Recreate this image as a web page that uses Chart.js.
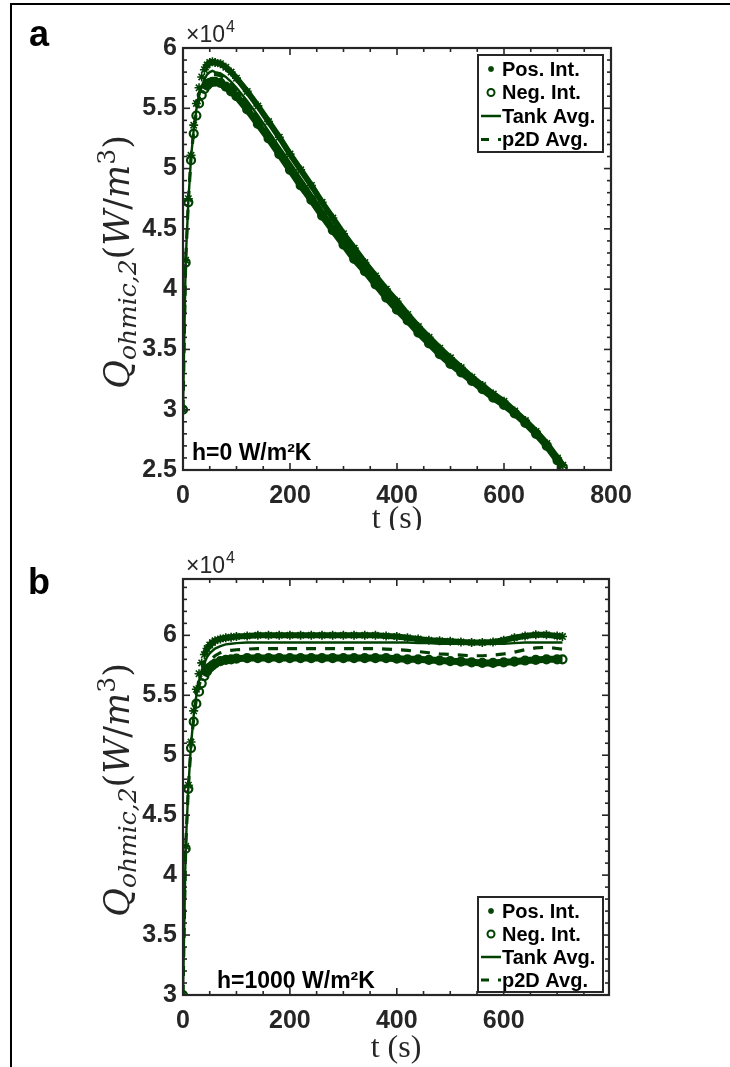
<!DOCTYPE html>
<html>
<head>
<meta charset="utf-8">
<script src="https://cdn.jsdelivr.net/npm/chart.js@4.4.1/dist/chart.umd.min.js"></script>
<style>
  body { margin: 0; background: #fff; }
  #page { position: relative; width: 730px; height: 1067px; overflow: hidden; }
  #frame { position: absolute; left: 10px; top: 3px; width: 740px; height: 1080px;
           border-top: 2px solid #000; border-left: 2px solid #000; }
  .panel { position: absolute; left: 0; width: 730px; }
</style>
</head>
<body>
<div id="page">
  <div id="frame"></div>
  <div class="panel" style="top:0;height:530px"><canvas id="chartA" width="730" height="530"></canvas></div>
  <div class="panel" style="top:530px;height:537px"><canvas id="chartB" width="730" height="537"></canvas></div>
</div>
<script>
// values in units of 1e4 W/m^3, time in s
const timeA = [0, 5, 10, 15, 20, 25, 30, 35, 40, 45, 50, 55, 60, 70, 80, 90, 100,
  120, 140, 160, 180, 200, 220, 240, 260, 280, 300, 320, 340, 360, 380, 400, 420, 440,
  460, 480, 500, 520, 540, 560, 580, 600, 620, 640, 660, 680, 700, 710];
const posA = [3.00, 4.24, 4.75, 5.11, 5.36, 5.54, 5.67, 5.76, 5.82, 5.86, 5.88, 5.885, 5.88,
  5.87, 5.84, 5.80, 5.75,
  5.64, 5.52, 5.39, 5.26, 5.12, 4.99, 4.86, 4.72, 4.59, 4.46, 4.34, 4.22, 4.11, 4.00,
  3.90, 3.79, 3.69, 3.60, 3.51, 3.43, 3.35, 3.27, 3.20, 3.13, 3.07, 2.99, 2.91, 2.82, 2.72, 2.60,
  2.54];
const negA = [3.00, 4.22, 4.72, 5.07, 5.29, 5.44, 5.54, 5.61, 5.66, 5.69, 5.71, 5.72, 5.72,
  5.71, 5.68, 5.64, 5.60,
  5.49, 5.37, 5.25, 5.12, 4.99, 4.86, 4.74, 4.61, 4.49, 4.37, 4.25, 4.15, 4.04, 3.93,
  3.83, 3.74, 3.64, 3.55, 3.46, 3.38, 3.31, 3.24, 3.17, 3.10, 3.04, 2.97, 2.89, 2.80, 2.70, 2.58,
  2.52];
const tankA = [3.00, 4.23, 4.73, 5.09, 5.32, 5.49, 5.60, 5.68, 5.74, 5.78, 5.80, 5.81, 5.80,
  5.79, 5.76, 5.72, 5.67,
  5.56, 5.44, 5.31, 5.18, 5.05, 4.92, 4.79, 4.66, 4.53, 4.41, 4.29, 4.18, 4.07, 3.96,
  3.86, 3.76, 3.66, 3.57, 3.48, 3.40, 3.32, 3.25, 3.18, 3.11, 3.05, 2.98, 2.90, 2.81, 2.71, 2.59,
  2.53];
const p2dA = [3.00, 4.23, 4.73, 5.09, 5.31, 5.47, 5.58, 5.66, 5.71, 5.75, 5.77, 5.78, 5.78,
  5.77, 5.74, 5.70, 5.65,
  5.54, 5.42, 5.29, 5.16, 5.03, 4.90, 4.77, 4.64, 4.52, 4.40, 4.28, 4.17, 4.06, 3.95,
  3.85, 3.75, 3.65, 3.56, 3.47, 3.39, 3.31, 3.24, 3.17, 3.11, 3.05, 2.98, 2.90, 2.81, 2.71, 2.59,
  2.53];

const timeB = [0, 5, 10, 15, 20, 25, 30, 35, 40, 45, 50, 55, 60, 70, 80, 90, 100,
  120, 140, 160, 180, 200, 220, 240, 260, 280, 300, 320, 340, 360, 380, 400, 420, 440,
  460, 480, 500, 520, 540, 560, 580, 600, 620, 640, 660, 680, 700, 710];
const posB = [3.00, 4.24, 4.75, 5.11, 5.37, 5.55, 5.68, 5.77, 5.84, 5.89, 5.92, 5.94, 5.955,
  5.97, 5.98, 5.985, 5.99,
  5.995, 6.00, 6.00, 6.00, 6.00, 6.00, 6.00, 6.00, 6.00, 6.00, 6.00, 6.00, 6.00,
  5.995, 5.99, 5.98, 5.97, 5.96, 5.955, 5.95, 5.945, 5.94, 5.94, 5.945, 5.96, 5.98, 5.995,
  6.005, 6.005, 5.995,
  5.99];
const negB = [3.00, 4.22, 4.72, 5.06, 5.28, 5.43, 5.53, 5.60, 5.66, 5.70, 5.73, 5.75, 5.765,
  5.785, 5.795, 5.80, 5.805,
  5.81, 5.81, 5.81, 5.81, 5.81, 5.81, 5.81, 5.81, 5.81, 5.81, 5.81, 5.81, 5.81,
  5.81, 5.805, 5.80, 5.80, 5.795, 5.79, 5.785, 5.78, 5.775, 5.77, 5.77, 5.775, 5.78, 5.79,
  5.795, 5.80, 5.80,
  5.80];
const tankB = [3.00, 4.23, 4.73, 5.09, 5.33, 5.50, 5.62, 5.71, 5.77, 5.82, 5.85, 5.87, 5.89,
  5.91, 5.925, 5.93, 5.935,
  5.94, 5.94, 5.94, 5.94, 5.94, 5.94, 5.94, 5.94, 5.94, 5.94, 5.94, 5.94, 5.94,
  5.94, 5.94, 5.94, 5.935, 5.935, 5.93, 5.93, 5.93, 5.93, 5.93, 5.93, 5.93, 5.935, 5.94,
  5.94, 5.94, 5.94,
  5.94];
const p2dB = [3.00, 4.23, 4.73, 5.08, 5.31, 5.47, 5.58, 5.66, 5.72, 5.76, 5.79, 5.81, 5.83,
  5.855, 5.87, 5.875, 5.88,
  5.885, 5.89, 5.89, 5.89, 5.89, 5.89, 5.89, 5.89, 5.89, 5.89, 5.89, 5.89, 5.89,
  5.885, 5.88, 5.875, 5.865, 5.855, 5.845, 5.84, 5.835, 5.83, 5.83, 5.835, 5.845, 5.86, 5.88,
  5.895, 5.90, 5.89,
  5.885];

const seriesLabels = ['Pos. Int.', 'Neg. Int.', 'Tank Avg.', 'p2D Avg.'];
const xTicksA = [0, 200, 400, 600, 800];
const xTicksB = [0, 200, 400, 600];
const yTicksA = [2.5, 3, 3.5, 4, 4.5, 5, 5.5, 6];
const yTicksB = [3, 3.5, 4, 4.5, 5, 5.5, 6];

const GREEN = '#004000';
const AXIS = '#262626';
const SANS = '"Liberation Sans", Arial, sans-serif';
const SERIF = '"Liberation Serif", "Times New Roman", serif';
const MATH = '"DejaVu Serif", serif';

function pts(times, vals) {
  return times.map((t, i) => ({ x: t, y: vals[i] }));
}

// the marker series form a solid band once the curves flatten out
const band = { borderColor: c => c.p0.parsed.x < 40 ? 'rgba(0,0,0,0)' : GREEN };

function buildDatasets(times, pos, neg, tank, p2d) {
  return [
    { label: seriesLabels[0], data: pts(times, pos), mark: 'star', order: 4,
      borderColor: GREEN, borderWidth: 6, segment: band,
      pointStyle: 'star', pointRadius: 4.5, pointBorderWidth: 1.6,
      pointBorderColor: GREEN, pointBackgroundColor: GREEN },
    { label: seriesLabels[1], data: pts(times, neg), mark: 'circle', order: 3,
      borderColor: GREEN, borderWidth: 7, segment: band,
      pointStyle: 'circle', pointRadius: 4, pointBorderWidth: 2.2,
      pointBorderColor: GREEN, pointBackgroundColor: 'rgba(0,0,0,0)' },
    { label: seriesLabels[2], data: pts(times, tank), mark: 'line', order: 2,
      borderColor: GREEN, borderWidth: 2.4, pointRadius: 0 },
    { label: seriesLabels[3], data: pts(times, p2d), mark: 'dash', order: 1,
      borderColor: GREEN, borderWidth: 3.2, borderDash: [10, 9], pointRadius: 0 }
  ];
}

function drawFrame(chart) {
  const { ctx, chartArea: a, scales: { x, y } } = chart;
  ctx.save();
  ctx.strokeStyle = AXIS;
  ctx.lineWidth = 1.6;
  const tick = (px, py, dx, dy) => {
    ctx.beginPath(); ctx.moveTo(px, py); ctx.lineTo(px + dx, py + dy); ctx.stroke();
  };
  for (let v = 0; v <= x.max + 1e-6; v += 50) {
    const px = x.getPixelForValue(v);
    const len = v % 200 === 0 ? 7 : 4;
    tick(px, a.bottom, 0, -len);
    tick(px, a.top, 0, len);
  }
  for (let k = Math.ceil(y.min * 10 - 1e-6); k <= y.max * 10 + 1e-6; k++) {
    const py = y.getPixelForValue(k / 10);
    const len = k % 5 === 0 ? 7 : 4;
    tick(a.left, py, len, 0);
    tick(a.right, py, -len, 0);
  }
  ctx.lineWidth = 2.2;
  ctx.strokeRect(a.left, a.top, a.right - a.left, a.bottom - a.top);
  ctx.restore();
}

function drawMark(ctx, kind, x, y) {
  ctx.strokeStyle = GREEN;
  if (kind === 'star') {
    ctx.lineWidth = 1.6;
    const r = 3;
    for (let i = 0; i < 4; i++) {
      const ang = i * Math.PI / 4;
      ctx.beginPath();
      ctx.moveTo(x - r * Math.cos(ang), y - r * Math.sin(ang));
      ctx.lineTo(x + r * Math.cos(ang), y + r * Math.sin(ang));
      ctx.stroke();
    }
  } else if (kind === 'circle') {
    ctx.lineWidth = 2;
    ctx.beginPath(); ctx.arc(x, y, 3.5, 0, Math.PI * 2); ctx.stroke();
  } else if (kind === 'line') {
    ctx.lineWidth = 2.5;
    ctx.beginPath(); ctx.moveTo(x - 10, y); ctx.lineTo(x + 10, y); ctx.stroke();
  } else {
    ctx.lineWidth = 3;
    ctx.setLineDash([8, 9]);
    ctx.beginPath(); ctx.moveTo(x - 10, y); ctx.lineTo(x + 10, y); ctx.stroke();
    ctx.setLineDash([]);
  }
}

function drawLegend(chart, box) {
  const ctx = chart.ctx;
  ctx.save();
  ctx.fillStyle = '#fff';
  ctx.fillRect(box.x, box.y, box.w, box.h);
  ctx.strokeStyle = AXIS;
  ctx.lineWidth = 2;
  ctx.strokeRect(box.x, box.y, box.w, box.h);
  chart.data.datasets.forEach((ds, i) => {
    const yy = box.y + 14 + i * box.step;
    drawMark(ctx, ds.mark, box.x + 13, yy);
    ctx.fillStyle = '#000';
    ctx.font = 'bold 20px ' + SANS;
    ctx.textAlign = 'left';
    ctx.textBaseline = 'middle';
    ctx.fillText(ds.label, box.x + 24, yy + 1);
  });
  ctx.restore();
}

function drawYTitle(ctx, cx, cy) {
  const big = 35, small = 25;
  const parts = [
    ['Q', 'italic ' + big + 'px ' + MATH, 0],
    ['ohmic,2', 'italic ' + small + 'px ' + MATH, 7],
    ['(', big + 'px ' + MATH, 0],
    ['W', 'italic ' + big + 'px ' + MATH, 0],
    ['/', big + 'px ' + MATH, 0],
    ['m', 'italic ' + big + 'px ' + MATH, 0],
    ['3', small + 'px ' + MATH, -14],
    [')', big + 'px ' + MATH, 0]
  ];
  let total = 0;
  parts.forEach(p => { ctx.font = p[1]; p.push(ctx.measureText(p[0]).width); total += p[3]; });
  ctx.save();
  ctx.translate(cx, cy);
  ctx.rotate(-Math.PI / 2);
  ctx.fillStyle = AXIS;
  ctx.textAlign = 'left';
  ctx.textBaseline = 'alphabetic';
  let x = -total / 2;
  parts.forEach(p => { ctx.font = p[1]; ctx.fillText(p[0], x, p[2]); x += p[3]; });
  ctx.restore();
}

const decorPlugin = {
  id: 'decor',
  afterDatasetsDraw(chart) { drawFrame(chart); },
  afterDraw(chart, args, o) {
    const ctx = chart.ctx;
    const a = chart.chartArea;
    ctx.save();
    ctx.textAlign = 'left';
    ctx.textBaseline = 'alphabetic';
    ctx.fillStyle = '#000';
    ctx.font = 'bold 36px ' + SANS;
    ctx.fillText(o.letter, o.letterX, o.letterY);

    ctx.fillStyle = AXIS;
    ctx.font = '23px ' + SANS;
    ctx.fillText('\u00d710', o.expX, o.expY);
    const w = ctx.measureText('\u00d710').width;
    ctx.font = '16px ' + SANS;
    ctx.fillText('4', o.expX + w + 1, o.expY - 10);

    ctx.fillStyle = '#000';
    ctx.font = 'bold 23px ' + SANS;
    ctx.fillText(o.note, o.noteX, o.noteY);

    ctx.fillStyle = AXIS;
    ctx.font = '32px ' + SERIF;
    ctx.textAlign = 'center';
    ctx.fillText('t (s)', (a.left + a.right) / 2, o.xTitleY);
    ctx.restore();

    drawYTitle(ctx, o.yTitleX, o.yTitleY);
    drawLegend(chart, o.legend);
  }
};

const tickFont = { family: SANS, size: 25, weight: 'bold' };

function makeChart(id, datasets, cfg) {
  return new Chart(document.getElementById(id), {
    type: 'line',
    data: { datasets: datasets },
    options: {
      responsive: false,
      animation: false,
      layout: { padding: cfg.padding },
      plugins: { legend: { display: false }, tooltip: { enabled: false }, decor: cfg.decor },
      scales: {
        x: {
          type: 'linear', min: 0, max: cfg.xMax,
          afterBuildTicks: s => { s.ticks = cfg.xTicks.map(v => ({ value: v })); },
          afterFit: s => { s.height = cfg.xHeight; },
          grid: { display: false, drawTicks: false },
          border: { display: false },
          ticks: { font: tickFont, color: AXIS, padding: 11, maxRotation: 0, autoSkip: false,
                   callback: v => String(v) }
        },
        y: {
          min: cfg.yMin, max: cfg.yMax,
          afterBuildTicks: s => { s.ticks = cfg.yTicks.map(v => ({ value: v })); },
          afterFit: s => { s.width = 183; },
          grid: { display: false, drawTicks: false },
          border: { display: false },
          ticks: { font: tickFont, color: AXIS, padding: 6, autoSkip: false,
                   callback: v => String(v) }
        }
      }
    },
    plugins: [decorPlugin]
  });
}

makeChart('chartA', buildDatasets(timeA, posA, negA, tankA, p2dA), {
  padding: { left: 0, top: 48, right: 119, bottom: 0 },
  xMax: 800, xTicks: xTicksA, xHeight: 60,
  yMin: 2.5, yMax: 6, yTicks: yTicksA,
  decor: {
    letter: 'a', letterX: 29, letterY: 46,
    expX: 186, expY: 42,
    note: 'h=0 W/m\u00b2K', noteX: 192, noteY: 460,
    xTitleY: 528, yTitleX: 129, yTitleY: 262,
    legend: { x: 478, y: 55, w: 125, h: 97, step: 23.5 }
  }
});

makeChart('chartB', buildDatasets(timeB, posB, negB, tankB, p2dB), {
  padding: { left: 0, top: 49, right: 121, bottom: 0 },
  xMax: 797, xTicks: xTicksB, xHeight: 72,
  yMin: 3, yMax: 6.47, yTicks: yTicksB,
  decor: {
    letter: 'b', letterX: 28, letterY: 64,
    expX: 186, expY: 43,
    note: 'h=1000 W/m\u00b2K', noteX: 217, noteY: 458,
    xTitleY: 527, yTitleX: 129, yTitleY: 260,
    legend: { x: 478, y: 367, w: 125, h: 95, step: 23 }
  }
});
</script>
</body>
</html>
